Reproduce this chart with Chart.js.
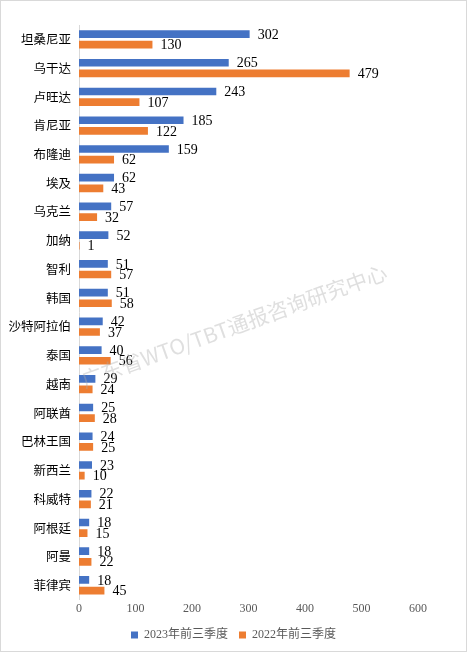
<!DOCTYPE html>
<html>
<head>
<meta charset="utf-8">
<script src="https://cdn.jsdelivr.net/npm/chart.js@4"></script>
<style>
  html,body{margin:0;padding:0;background:#fff}
  #box{width:467px;height:652px;box-sizing:border-box;border:1px solid #d9d9d9;position:relative}
  canvas{display:block}
</style>
</head>
<body>
<div id="box"><canvas id="c" width="465" height="650"></canvas></div>
<script>
// ─── datos ───
const paises = ['坦桑尼亚','乌干达','卢旺达','肯尼亚','布隆迪','埃及','乌克兰','加纳','智利','韩国',
  '沙特阿拉伯','泰国','越南','阿联酋','巴林王国','新西兰','科威特','阿根廷','阿曼','菲律宾'];
const v2023 = [302,265,243,185,159,62,57,52,51,51,42,40,29,25,24,23,22,18,18,18];
const v2022 = [130,479,107,122,62,43,32,1,57,58,37,56,24,28,25,10,21,15,22,45];
const series = ['2023年前三季度','2022年前三季度'];
const xTicks = [0,100,200,300,400,500,600];

const BLUE='#4472C4', ORANGE='#ED7D31';

const valueLabels = {
  id:'valueLabels',
  afterDatasetsDraw(chart){
    const ctx=chart.ctx;
    ctx.save();
    ctx.font='14px "Liberation Serif", "Times New Roman", serif';
    ctx.fillStyle='#000';
    ctx.textBaseline='middle';
    ctx.textAlign='left';
    chart.data.datasets.forEach((ds,i)=>{
      chart.getDatasetMeta(i).data.forEach((bar,j)=>{
        ctx.fillText(String(ds.data[j]), bar.x+8, bar.y+1);
      });
    });
    ctx.restore();
  }
};

// legend centred on the whole page, not on the area left after padding
const centreLegend = {
  id:'centreLegend',
  afterLayout(chart){
    const l=chart.legend;
    if(!l) return;
    const shift=(chart.width - (l.left + l.right))/2;
    l.left+=shift; l.right+=shift;
  }
};

const watermark = {
  id:'watermark',
  afterDraw(chart){
    const ctx=chart.ctx;
    ctx.save();
    ctx.translate(233,325);
    ctx.rotate(-19.8*Math.PI/180);
    ctx.font='21px "Noto Sans CJK SC", "Noto Sans", sans-serif';
    ctx.fillStyle='rgba(170,170,170,0.38)';
    ctx.textAlign='center';
    ctx.textBaseline='middle';
    ctx.fillText('广东省WTO/TBT通报咨询研究中心',0,0);
    ctx.restore();
  }
};

new Chart(document.getElementById('c'),{
  type:'bar',
  data:{
    labels:paises,
    datasets:[
      {label:series[0], data:v2023, backgroundColor:BLUE, categoryPercentage:0.74, barPercentage:0.72},
      {label:series[1], data:v2022, backgroundColor:ORANGE, categoryPercentage:0.74, barPercentage:0.72}
    ]
  },
  options:{
    indexAxis:'y',
    responsive:false,
    animation:false,
    devicePixelRatio:1,
    layout:{padding:{top:24,right:48,bottom:0,left:0}},
    plugins:{
      legend:{
        position:'bottom',
        labels:{
          boxWidth:7, boxHeight:7, padding:11,
          color:'#595959',
          font:{size:12,family:'"Liberation Serif", "Noto Sans CJK SC", serif'}
        }
      },
      tooltip:{enabled:false}
    },
    scales:{
      x:{
        min:0, max:600,
        afterBuildTicks:s=>{ s.ticks = xTicks.map(v=>({value:v})); },
        grid:{display:false, drawTicks:false},
        border:{display:false},
        ticks:{color:'#595959', padding:2, font:{size:12,family:'"Liberation Serif", "Times New Roman", serif'}}
      },
      y:{
        afterFit:s=>{ s.width=78; },
        grid:{display:false, drawTicks:false},
        border:{display:true, color:'#d9d9d9'},
        ticks:{color:'#000', padding:8, autoSkip:false, font:{size:12.5,family:'"Noto Sans CJK SC", sans-serif'}}
      }
    }
  },
  plugins:[valueLabels, centreLegend, watermark]
});
</script>
</body>
</html>
